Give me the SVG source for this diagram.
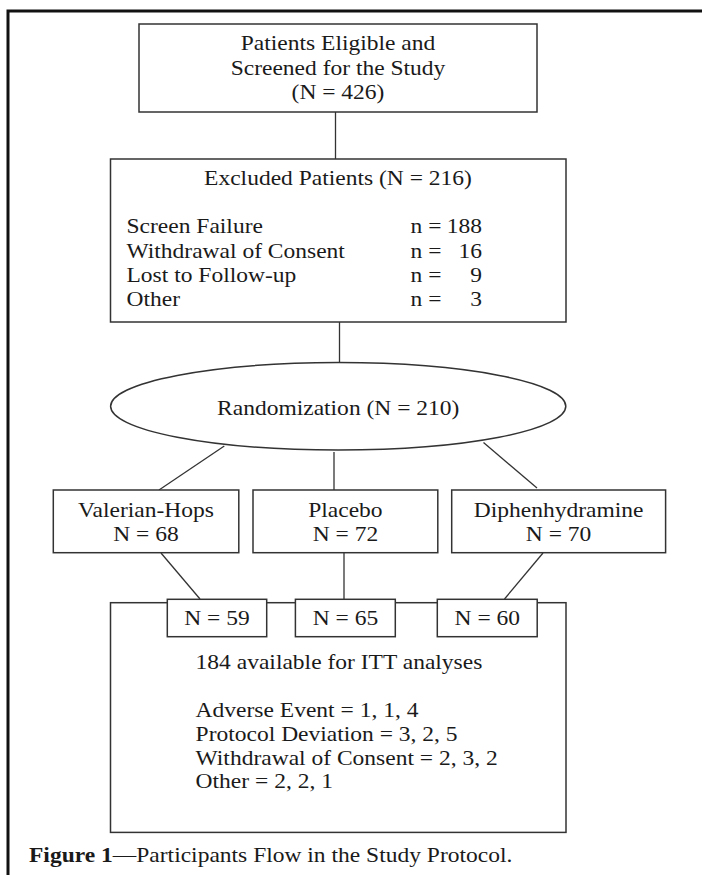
<svg xmlns="http://www.w3.org/2000/svg" width="702" height="875" viewBox="0 0 702 875">
<style>
text{font-family:"Liberation Serif","Times New Roman",serif;font-size:21px;fill:#1a1a1a}
.c{text-anchor:middle}
.e{text-anchor:end}
.box{fill:#fff;stroke:#333;stroke-width:1.5}
.ln{stroke:#333;stroke-width:1.3;fill:none}
</style>
<rect width="702" height="875" fill="#fff"/>
<path d="M8,875 V11 H702" fill="none" stroke="#111" stroke-width="3"/>
<g id="connectors">
<line class="ln" x1="335.5" y1="112" x2="335.5" y2="159"/>
<line class="ln" x1="339.5" y1="322" x2="339.5" y2="363"/>
<line class="ln" x1="224.3" y1="446" x2="159" y2="490"/>
<line class="ln" x1="334" y1="452" x2="334" y2="490"/>
<line class="ln" x1="483.5" y1="442.5" x2="537" y2="488"/>
<line class="ln" x1="161" y1="553" x2="200" y2="599"/>
<line class="ln" x1="344" y1="553" x2="344" y2="599"/>
<line class="ln" x1="543" y1="553" x2="504.5" y2="599"/>
</g>
<g id="screened">
<rect class="box" x="139" y="24" width="398" height="88"/>
<text class="c" transform="matrix(1.12 0 0 1 338 50)">Patients Eligible and</text>
<text class="c" transform="matrix(1.12 0 0 1 338 74.5)">Screened for the Study</text>
<text class="c" transform="matrix(1.12 0 0 1 338 99)">(N = 426)</text>
</g>
<g id="excluded">
<rect class="box" x="110.5" y="159" width="455.5" height="163"/>
<text class="c" transform="matrix(1.12 0 0 1 338 185)">Excluded Patients (N = 216)</text>
<text transform="matrix(1.12 0 0 1 126.5 233)">Screen Failure</text>
<text transform="matrix(1.12 0 0 1 126.5 257.5)">Withdrawal of Consent</text>
<text transform="matrix(1.12 0 0 1 126.5 282)">Lost to Follow-up</text>
<text transform="matrix(1.12 0 0 1 126.5 306)">Other</text>
<text transform="matrix(1.12 0 0 1 410.5 233)">n =</text>
<text transform="matrix(1.12 0 0 1 410.5 257.5)">n =</text>
<text transform="matrix(1.12 0 0 1 410.5 282)">n =</text>
<text transform="matrix(1.12 0 0 1 410.5 306)">n =</text>
<text class="e" transform="matrix(1.12 0 0 1 482 233)">188</text>
<text class="e" transform="matrix(1.12 0 0 1 482 257.5)">16</text>
<text class="e" transform="matrix(1.12 0 0 1 482 282)">9</text>
<text class="e" transform="matrix(1.12 0 0 1 482 306)">3</text>
</g>
<g id="randomization">
<ellipse class="box" cx="338.2" cy="406.3" rx="227.6" ry="43.7"/>
<text class="c" transform="matrix(1.12 0 0 1 338.2 415)">Randomization (N = 210)</text>
</g>
<g id="valerian">
<rect class="box" x="53.3" y="490" width="185.5" height="62.7"/>
<text class="c" transform="matrix(1.12 0 0 1 146 517)">Valerian-Hops</text>
<text class="c" transform="matrix(1.12 0 0 1 146 541)">N = 68</text>
</g>
<g id="placebo">
<rect class="box" x="253" y="490" width="184.8" height="62.7"/>
<text class="c" transform="matrix(1.12 0 0 1 345.4 517)">Placebo</text>
<text class="c" transform="matrix(1.12 0 0 1 345.4 541)">N = 72</text>
</g>
<g id="diphenhydramine">
<rect class="box" x="451.7" y="490" width="213.9" height="62.7"/>
<text class="c" transform="matrix(1.12 0 0 1 558.6 517)">Diphenhydramine</text>
<text class="c" transform="matrix(1.12 0 0 1 558.6 541)">N = 70</text>
</g>
<g id="itt">
<rect class="box" x="110.5" y="602.7" width="455.5" height="229.7"/>
<text transform="matrix(1.12 0 0 1 195.6 669)">184 available for ITT analyses</text>
<text transform="matrix(1.12 0 0 1 195.6 716.7)">Adverse Event = 1, 1, 4</text>
<text transform="matrix(1.12 0 0 1 195.6 740.7)">Protocol Deviation = 3, 2, 5</text>
<text transform="matrix(1.12 0 0 1 195.6 764.5)">Withdrawal of Consent = 2, 3, 2</text>
<text transform="matrix(1.12 0 0 1 195.6 788.3)">Other = 2, 2, 1</text>
</g>
<g id="n59">
<rect class="box" x="167.3" y="599.3" width="99.4" height="37.4"/>
<text class="c" transform="matrix(1.12 0 0 1 217 625)">N = 59</text>
</g>
<g id="n65">
<rect class="box" x="295.4" y="599.3" width="99.9" height="37.4"/>
<text class="c" transform="matrix(1.12 0 0 1 345.4 625)">N = 65</text>
</g>
<g id="n60">
<rect class="box" x="437.3" y="599.3" width="99.9" height="37.4"/>
<text class="c" transform="matrix(1.12 0 0 1 487.3 625)">N = 60</text>
</g>
<g id="caption">
<text transform="matrix(1.12 0 0 1 29 862)"><tspan font-weight="bold">Figure 1</tspan>—Participants Flow in the Study Protocol.</text>
</g>
</svg>
